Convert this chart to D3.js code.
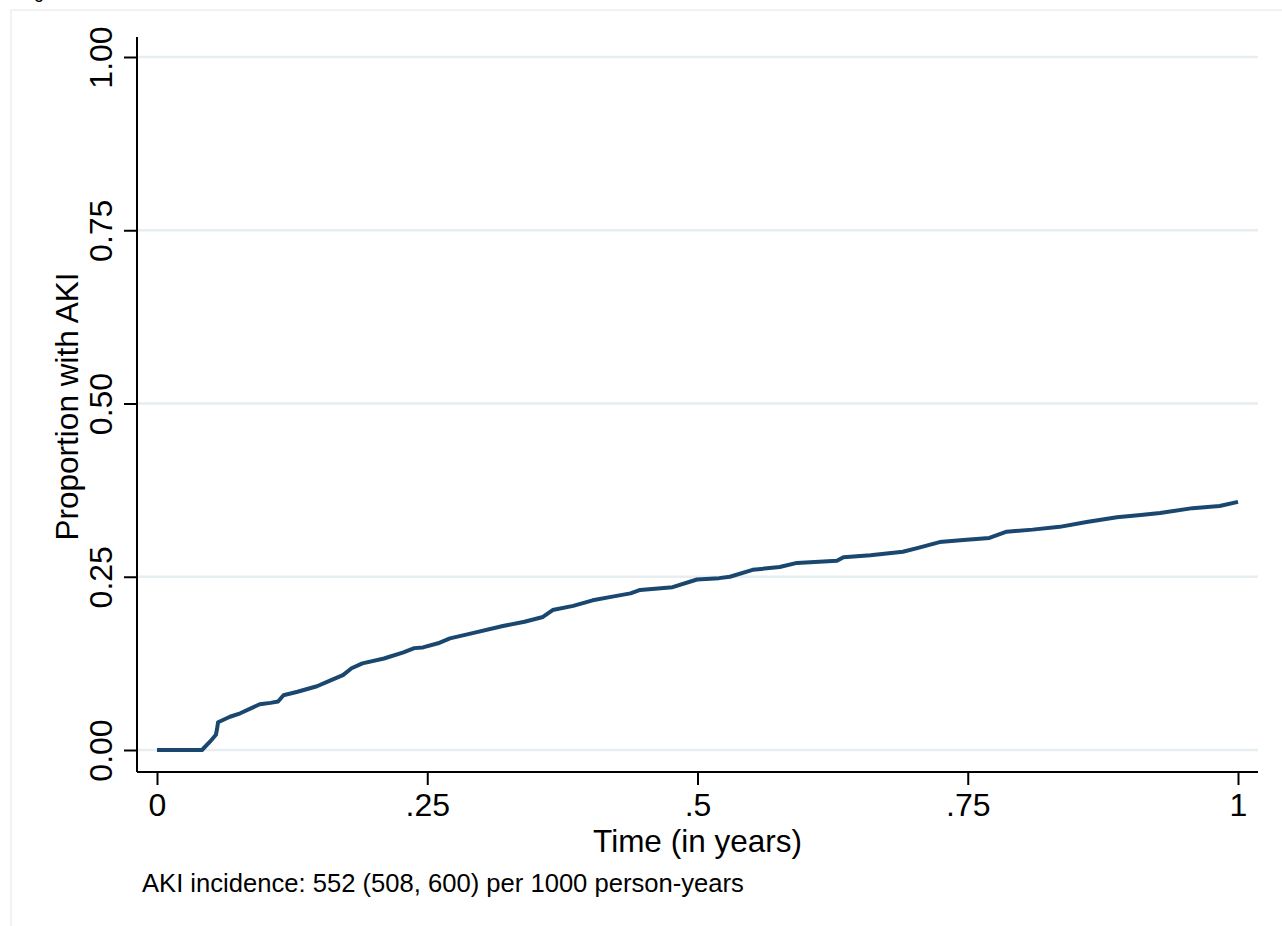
<!DOCTYPE html>
<html>
<head>
<meta charset="utf-8">
<script src="https://cdn.jsdelivr.net/npm/d3@7"></script>
<style>
	body { margin: 0; background: #fff; }
	svg { display: block; font-family: "Liberation Sans", Arial, sans-serif; }
</style>
</head>
<body>
<div id="chart"></div>
<script>
// Kaplan-Meier failure curve
const timeYears = [
	0, 0.0416, 0.049, 0.0545, 0.0555, 0.0565, 0.0675, 0.077, 0.095, 0.105,
	0.112, 0.117, 0.13, 0.148, 0.16, 0.172, 0.18, 0.19, 0.21, 0.228,
	0.238, 0.246, 0.26, 0.271, 0.29, 0.32, 0.34, 0.357, 0.366, 0.385,
	0.403, 0.42, 0.438, 0.447, 0.477, 0.4995, 0.52, 0.53, 0.551, 0.576,
	0.592, 0.629, 0.635, 0.66, 0.69, 0.705, 0.724, 0.746, 0.77, 0.786,
	0.81, 0.835, 0.86, 0.888, 0.91, 0.928, 0.958, 0.983, 1.0
];
const propAKI = [
	0, 0, 0.012, 0.022, 0.03, 0.04, 0.048, 0.053, 0.066, 0.068,
	0.07, 0.079, 0.084, 0.092, 0.1, 0.108, 0.118, 0.125, 0.132, 0.141,
	0.147, 0.148, 0.154, 0.161, 0.168, 0.179, 0.185, 0.192, 0.202, 0.208,
	0.216, 0.221, 0.226, 0.231, 0.235, 0.246, 0.248, 0.25, 0.26, 0.264,
	0.27, 0.273, 0.278, 0.281, 0.286, 0.292, 0.3, 0.303, 0.306, 0.315,
	0.318, 0.322, 0.329, 0.336, 0.339, 0.342, 0.349, 0.352, 0.358
];

const xTicks = [0, 0.25, 0.5, 0.75, 1];
const xTickLabels = ['0', '.25', '.5', '.75', '1'];
const yTicks = [0, 0.25, 0.5, 0.75, 1];
const yTickLabels = ['0.00', '0.25', '0.50', '0.75', '1.00'];

const xTitle = 'Time (in years)';
const yTitle = 'Proportion with AKI';
const note = 'AKI incidence: 552 (508, 600) per 1000 person-years';

const colors = {
	line: '#1a476f',
	grid: '#e6eef1',
	axis: '#000',
	frame: '#eeeeee',
};

const W = 1282, H = 926;
const plot = { left: 137, right: 1258, top: 37, bottom: 772 };
const tickFont = 32;

const svg = d3.select('#chart').append('svg')
	.attr('width', W)
	.attr('height', H);

// cut-off caption above the graph
svg.append('text')
	.attr('x', 34)
	.attr('y', -2)
	.attr('font-size', 18)
	.text('g');

// faint outer graph region border
svg.append('rect')
	.attr('x', 11)
	.attr('y', 10)
	.attr('width', W + 20)
	.attr('height', H + 20)
	.attr('fill', 'none')
	.attr('stroke', colors.frame)
	.attr('stroke-width', 1.5);

const x = d3.scaleLinear().domain([0, 1]).range([157, 1238]);
const y = d3.scaleLinear().domain([0, 1]).range([750, 57]);

// gridlines
svg.append('g')
	.selectAll('line')
	.data(yTicks)
	.join('line')
	.attr('x1', plot.left)
	.attr('x2', plot.right)
	.attr('y1', d => y(d))
	.attr('y2', d => y(d))
	.attr('stroke', colors.grid)
	.attr('stroke-width', 2.5);

// axes
const xAxis = svg.append('g')
	.attr('transform', `translate(0,${plot.bottom})`)
	.call(d3.axisBottom(x)
		.tickValues(xTicks)
		.tickFormat((d, i) => xTickLabels[i])
		.tickSize(13)
		.tickSizeOuter(0)
		.tickPadding(8));
xAxis.select('.domain')
	.attr('d', `M${plot.left},0H${plot.right}`)
	.attr('stroke-width', 2);
xAxis.selectAll('.tick line').attr('stroke-width', 2);
xAxis.selectAll('.tick text')
	.attr('font-size', tickFont)
	.attr('font-family', '"Liberation Sans", Arial, sans-serif')
	.attr('fill', '#000');

const yAxis = svg.append('g')
	.attr('transform', `translate(${plot.left},0)`)
	.call(d3.axisLeft(y)
		.tickValues(yTicks)
		.tickFormat((d, i) => yTickLabels[i])
		.tickSize(13)
		.tickSizeOuter(0));
yAxis.select('.domain')
	.attr('d', `M0,${plot.top}V${plot.bottom}`)
	.attr('stroke-width', 2);
yAxis.selectAll('.tick line').attr('stroke-width', 2);
yAxis.selectAll('.tick text')
	.attr('x', null)
	.attr('dy', null)
	.attr('font-size', tickFont)
	.attr('font-family', '"Liberation Sans", Arial, sans-serif')
	.attr('fill', '#000')
	.attr('text-anchor', 'middle')
	.attr('transform', 'translate(-25,0) rotate(-90)');

// KM curve
const pts = timeYears.map((t, i) => [t, propAKI[i]]);
svg.append('path')
	.datum(pts)
	.attr('fill', 'none')
	.attr('stroke', colors.line)
	.attr('stroke-width', 4)
	.attr('stroke-linejoin', 'round')
	.attr('d', d3.line()
		.x(d => x(d[0]))
		.y(d => y(d[1])));

// titles
svg.append('text')
	.attr('x', x(0.5))
	.attr('y', 852)
	.attr('text-anchor', 'middle')
	.attr('font-size', 31.5)
	.text(xTitle);

svg.append('text')
	.attr('transform', `translate(78,${(plot.top + plot.bottom) / 2 + 2}) rotate(-90)`)
	.attr('text-anchor', 'middle')
	.attr('font-size', 31.5)
	.text(yTitle);

svg.append('text')
	.attr('x', 142)
	.attr('y', 892)
	.attr('font-size', 25.6)
	.text(note);
</script>
</body>
</html>
